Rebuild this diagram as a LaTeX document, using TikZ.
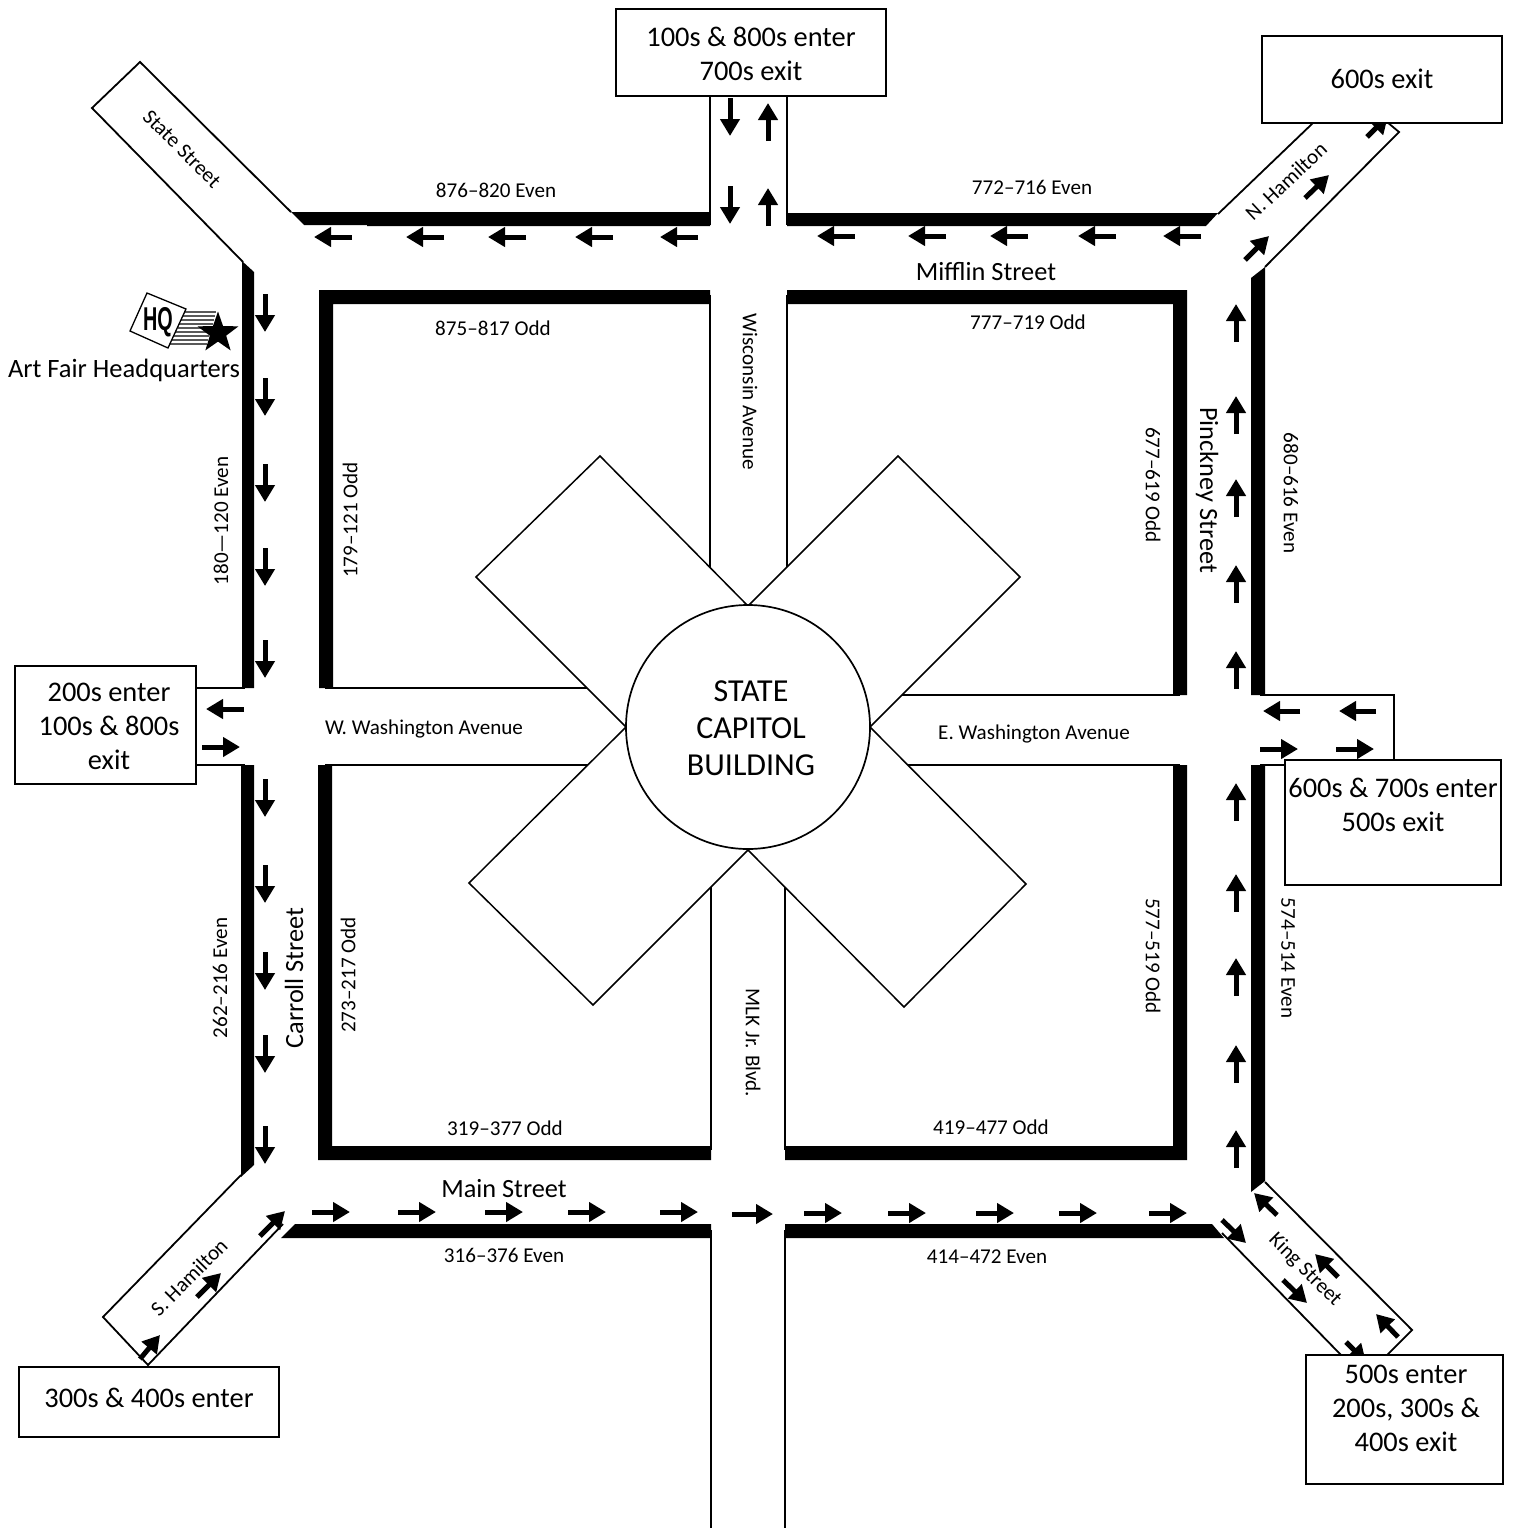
\documentclass[tikz,border=0pt]{standalone}
\usepackage{fontspec}
\setmainfont{Carlito}
\newfontfamily\hqfont{Liberation Sans}
\usetikzlibrary{arrows.meta,shapes.geometric}
\tikzset{
  road/.style={draw=black,line width=1.8pt,line join=miter},
  band/.style={fill=black,draw=none},
  wing/.style={draw=black,line width=1.5pt,fill=white,line join=miter},
  signbox/.style={draw=black,line width=2pt,fill=white,inner sep=0pt,align=center,anchor=north west},
  signtext/.style={font=\fontsize{28.4}{34}\selectfont,align=center,inner sep=0pt},
  blockarrow/.style={line width=5pt,black,-{Triangle[length=17pt,width=19pt]}},
  small/.style={font=\fontsize{21.1}{24}\selectfont,inner sep=0pt},
  medium/.style={font=\fontsize{26.3}{30}\selectfont,inner sep=0pt},
  big/.style={font=\fontsize{32}{37}\selectfont,inner sep=0pt,align=center},
}
\begin{document}
\begin{tikzpicture}[x=1pt,y=-1pt]
\useasboundingbox (0,0) rectangle (1514,1528);
\fill[white] (0,0) rectangle (1514,1528);
% thin street edges
\draw[road] (710,96) -- (710,225);
\draw[road] (787,96) -- (787,225);
\draw[road] (291,212) -- (140,62) -- (92,108) -- (243,262);
\draw[road] (1218,214) -- (1314,122);
\draw[road] (1387,122) -- (1399,132) -- (1265,267);
\draw[road] (241,1175) -- (103,1317) -- (148,1365) -- (283,1224);
\draw[road] (1265,1182) -- (1412,1330) -- (1386,1356);
\draw[road] (1222,1233) -- (1342,1356);
\draw[road] (196,688) -- (245,688);
\draw[road] (196,765) -- (245,765);
\draw[road] (1260,695) -- (1394,695) -- (1394,762);
\draw[road] (1260,765) -- (1290,765);
\draw[road] (711,1230) -- (711,1528);
\draw[road] (785,1230) -- (785,1528);
% block inner edges
\draw[road] (710,295) -- (710,570);
\draw[road] (325,688) -- (590,688);
\draw[road] (787,295) -- (787,570);
\draw[road] (900,695) -- (1180,695);
\draw[road] (325,765) -- (590,765);
\draw[road] (711,885) -- (711,1150);
\draw[road] (905,765) -- (1180,765);
\draw[road] (785,885) -- (785,1150);
% thick kerbs
\fill[band] (291,212) -- (710,212) -- (710,226) -- (367,226) -- (367,225) -- (304,225) -- cycle;
\fill[band] (787,213) -- (1218,213) -- (1206,226) -- (787,226) -- cycle;
\fill[band] (242,261) -- (254,272) -- (254,688) -- (242,688) -- cycle;
\fill[band] (241,765) -- (254,765) -- (254,1165) -- (241,1177) -- cycle;
\fill[band] (295,1224) -- (711,1224) -- (711,1238) -- (281,1238) -- cycle;
\fill[band] (785,1224) -- (1212,1224) -- (1224,1238) -- (785,1238) -- cycle;
\fill[band] (1251,278) -- (1265,267) -- (1265,695) -- (1251,695) -- cycle;
\fill[band] (1251,765) -- (1265,765) -- (1265,1181) -- (1251,1192) -- cycle;
\fill[band] (319,290) -- (710,290) -- (710,304) -- (333,304) -- (333,688) -- (319,688) -- cycle;
\fill[band] (787,290) -- (1187,290) -- (1187,695) -- (1173,695) -- (1173,304) -- (787,304) -- cycle;
\fill[band] (318,765) -- (332,765) -- (332,1146) -- (711,1146) -- (711,1160) -- (318,1160) -- cycle;
\fill[band] (1173,765) -- (1187,765) -- (1187,1160) -- (785,1160) -- (785,1146) -- (1173,1146) -- cycle;
% building
\draw[wing] (600,456) -- (748,606) -- (625,726) -- (476,577) -- cycle;
\draw[wing] (898,456) -- (748,606) -- (871,726) -- (1020,577) -- cycle;
\draw[wing] (469,883) -- (625,728) -- (748,850) -- (593,1005) -- cycle;
\draw[wing] (1026,884) -- (871,728) -- (748,850) -- (904,1007) -- cycle;
\node[circle,draw=black,line width=1.7pt,fill=white,minimum size=244pt,inner sep=0pt] (capitol) at (748,727) {};
\node[big] (capitoltext) at (751,728) {STATE\\CAPITOL\\BUILDING};
% arrows
\foreach \a/\b in {352/314,444/406,526/488,613/575,698/660}{\draw[blockarrow] (\a,237) -- (\b,237);}
\foreach \a/\b in {855/817,946/908,1028/990,1116/1078,1201/1163}{\draw[blockarrow] (\a,236) -- (\b,236);}
\foreach \a/\b in {98/136,186/224}{\draw[blockarrow] (730,\a) -- (730,\b);}
\foreach \a/\b in {141/103,226/188}{\draw[blockarrow] (768,\a) -- (768,\b);}
\foreach \a/\b in {294/332,378/416,464/502,548/586,640/678,779/817,865/903,952/990,1035/1073,1126/1164}{\draw[blockarrow] (265,\a) -- (265,\b);}
\foreach \a/\b in {342/304,434/396,517/479,603/565,689/651,821/783,912/874,996/958,1083/1045,1168/1130}{\draw[blockarrow] (1236,\a) -- (1236,\b);}
\foreach \a/\b in {312/350,398/436,485/523,568/606,660/698}{\draw[blockarrow] (\a,1212) -- (\b,1212);}
\draw[blockarrow] (732,1214) -- (773,1214);
\foreach \a/\b in {804/842,888/926,976/1014,1059/1097,1149/1187}{\draw[blockarrow] (\a,1213) -- (\b,1213);}
\draw[blockarrow] (244,709) -- (206,709);
\draw[blockarrow] (202,747) -- (240,747);
\foreach \a/\b in {1300/1263,1376/1339}{\draw[blockarrow] (\a,711) -- (\b,711);}
\foreach \a/\b in {1260/1298,1336/1374}{\draw[blockarrow] (\a,749) -- (\b,749);}
\draw[blockarrow] (1245,260) -- (1269,236);
\draw[blockarrow] (1305,198) -- (1329,175);
\draw[blockarrow] (1367,137) -- (1388,116);
\draw[blockarrow] (260,1236) -- (285,1211);
\draw[blockarrow] (197,1297) -- (221,1273);
\draw[blockarrow] (140,1359) -- (160,1335);
\draw[blockarrow] (1222,1220) -- (1246,1243);
\draw[blockarrow] (1283,1280) -- (1307,1303);
\draw[blockarrow] (1346,1342) -- (1366,1362);
\draw[blockarrow] (1277,1215) -- (1254,1193);
\draw[blockarrow] (1338,1277) -- (1315,1254);
\draw[blockarrow] (1398,1337) -- (1376,1314);
% sign boxes
\node[signbox,minimum width=270pt,minimum height=87pt] (topbox) at (615.2,8.2) {};
\node[signtext] (toptext) at (751,54) {100s \& 800s enter\\700s exit};
\node[signbox,minimum width=240pt,minimum height=87pt] (nebox) at (1260.5,35.2) {};
\node[signtext] (netext) at (1382,79) {600s exit};
\node[signbox,minimum width=181pt,minimum height=118pt] (wbox) at (13.5,665.2) {};
\node[signtext] (wtext) at (109,726) {200s enter\\100s \& 800s\\exit};
\node[signbox,minimum width=216pt,minimum height=125pt] (ebox) at (1284.2,759.2) {};
\node[signtext] (etext) at (1393,805) {600s \& 700s enter\\500s exit};
\node[signbox,minimum width=260pt,minimum height=70pt] (swbox) at (18.2,1366.2) {};
\node[signtext] (swtext) at (149,1398) {300s \& 400s enter};
\node[signbox,minimum width=197pt,minimum height=129pt] (sebox) at (1305.2,1354.2) {};
\node[signtext] (setext) at (1406,1408) {500s enter\\200s, 300s \&\\400s exit};
% street names
\node[small,rotate=-45] (state) at (182,149) {State Street};
\node[small,rotate=43] (nham) at (1286,181) {N. Hamilton};
\node[small,rotate=45] (sham) at (189,1277) {S. Hamilton};
\node[small,rotate=-45] (king) at (1305,1270) {King Street};
\node[small,rotate=-90] (wisc) at (750,392) {Wisconsin Avenue};
\node[small,rotate=-90] (mlk) at (753,1043) {MLK Jr. Blvd.};
\node[small] (wwash) at (424,729) {W. Washington Avenue};
\node[small] (ewash) at (1034,734) {E. Washington Avenue};
\node[medium] (mifflin) at (986,272) {Mifflin Street};
\node[medium] (main) at (504,1189) {Main Street};
\node[medium,rotate=90] (carroll) at (294,978) {Carroll Street};
\node[medium,rotate=-90] (pinckney) at (1207,490) {Pinckney Street};
% address ranges
\node[small] at (496,190) {876–820 Even};
\node[small] at (1032,187) {772–716 Even};
\node[small] at (493,328) {875–817 Odd};
\node[small] at (1028,322) {777–719 Odd};
\node[small,rotate=90] at (221,521) {180—120 Even};
\node[small,rotate=90] at (350,520) {179–121 Odd};
\node[small,rotate=-90] at (1153,485) {677–619 Odd};
\node[small,rotate=-90] at (1291,493) {680–616 Even};
\node[small,rotate=90] at (220,978) {262–216 Even};
\node[small,rotate=90] at (348,975) {273–217 Odd};
\node[small,rotate=-90] at (1153,956) {577–519 Odd};
\node[small,rotate=-90] at (1288,958) {574–514 Even};
\node[small] at (505,1128) {319–377 Odd};
\node[small] at (991,1127) {419–477 Odd};
\node[small] at (504,1255) {316–376 Even};
\node[small] at (987,1257) {414–472 Even};
% HQ mark
\foreach \y in {312,316,...,346}{\draw[gray!70!black,line width=1.5pt] ({186-(\y-310)*0.47},\y) -- ({217-(\y-310)*0.3},\y);}
\draw[black,line width=1.3pt,fill=white] (147,293) -- (186,309) -- (168,348) -- (130,331) -- cycle;
\node[font=\fontsize{33}{33}\selectfont\hqfont\bfseries,inner sep=0pt,xscale=.6] (hq) at (158,322) {HQ};
\node[star,star points=5,star point ratio=2.5,fill=black,inner sep=0pt,minimum size=43pt] (hqstar) at (218,333) {};
\node[font=\fontsize{26.5}{30}\selectfont,inner sep=0pt] (hqlabel) at (124,370) {Art Fair Headquarters};
\end{tikzpicture}
\end{document}
